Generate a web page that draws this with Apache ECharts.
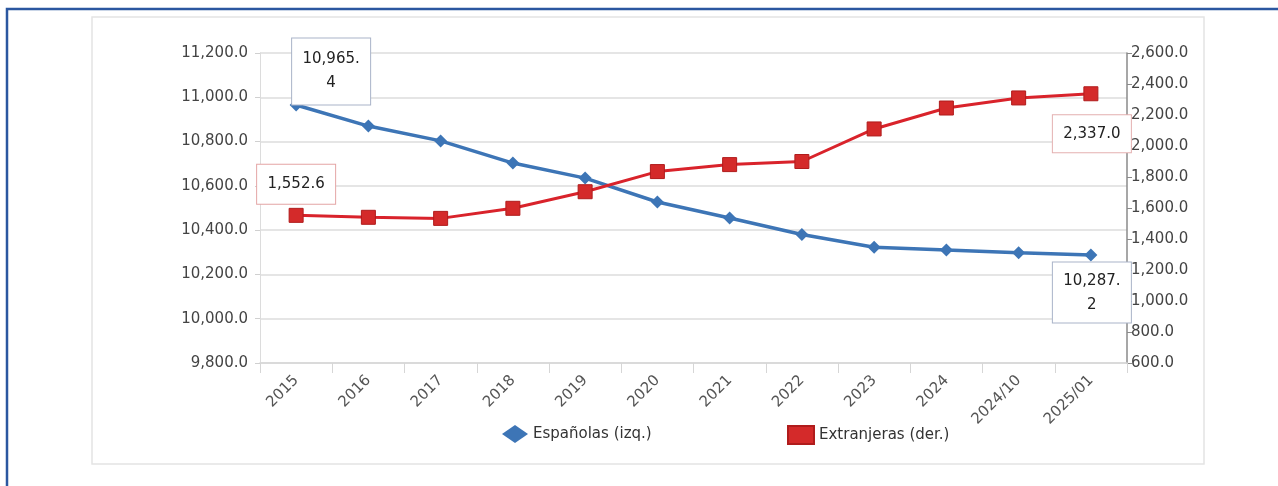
<!DOCTYPE html>
<html>
<head>
<meta charset="utf-8">
<script src="https://cdn.jsdelivr.net/npm/echarts@6/dist/echarts.min.js"></script>
<style>
  html, body { margin: 0; padding: 0; background: #ffffff; }
  #chart { width: 1278px; height: 486px; }
</style>
</head>
<body>
<div id="chart"></div>
<script>
const categories = ['2015', '2016', '2017', '2018', '2019', '2020', '2021', '2022', '2023', '2024', '2024/10', '2025/01'];
const espanolas = [10965.4, 10870, 10803, 10703, 10635, 10527, 10455, 10380, 10323, 10310, 10298, 10287.2];
const extranjeras = [1552.6, 1540, 1533, 1598, 1705, 1835, 1880, 1900, 2110, 2245, 2310, 2337.0];
const leftTicks = { min: 9800, max: 11200, interval: 200 };
const rightTicks = { min: 600, max: 2600, interval: 200 };
const seriesNames = ['Españolas (izq.)', 'Extranjeras (der.)'];

const FONT = 'DejaVu Sans';
const FS = 15;
const fmt = v => v.toLocaleString('en-US', { minimumFractionDigits: 1, maximumFractionDigits: 1 });
const wrapFmt = v => { const s = fmt(v); return s.slice(0, -1) + '\n' + s.slice(-1); };

const boxBase = {
  show: true,
  backgroundColor: '#ffffff',
  borderWidth: 1,
  fontFamily: FONT,
  fontSize: FS,
  color: '#222',
  align: 'center'
};

const last = categories.length - 1;
const blueData = espanolas.map((v, i) => {
  if (i === 0) return { value: v, label: Object.assign({}, boxBase, {
    position: 'top', distance: -6, offset: [35, 0], borderColor: '#a9b3c8',
    width: 70, padding: [9, 4], lineHeight: 24, formatter: p => wrapFmt(p.value) }) };
  if (i === last) return { value: v, label: Object.assign({}, boxBase, {
    position: 'bottom', distance: 1, offset: [1, 0], borderColor: '#a9b3c8',
    width: 70, padding: [6, 4], lineHeight: 24, formatter: p => wrapFmt(p.value) }) };
  return v;
});
const redData = extranjeras.map((v, i) => {
  if (i === 0) return { value: v, label: Object.assign({}, boxBase, {
    position: 'top', distance: 4, borderColor: '#e4a5a5',
    width: 70, padding: [10, 4], lineHeight: 19, formatter: p => fmt(p.value) }) };
  if (i === last) return { value: v, label: Object.assign({}, boxBase, {
    position: 'bottom', distance: 14, offset: [1, 0], borderColor: '#e4b0b0',
    width: 70, padding: [9, 4], lineHeight: 19, formatter: p => fmt(p.value) }) };
  return v;
});

const chart = echarts.init(document.getElementById('chart'), null, { renderer: 'canvas' });
chart.setOption({
  animation: false,
  backgroundColor: '#ffffff',
  textStyle: { fontFamily: FONT },
  graphic: [
    { type: 'rect', shape: { x: 92, y: 17, width: 1112, height: 447 }, style: { fill: 'none', stroke: '#e4e4e4', lineWidth: 1.5 }, silent: true },
    { type: 'polyline', shape: { points: [[7, 486], [7, 9], [1278, 9]] }, style: { fill: 'none', stroke: '#2b57a0', lineWidth: 2.5 }, silent: true }
  ],
  grid: { left: 260, right: 151, top: 53, bottom: 123 },
  legend: [
    { data: [{ name: seriesNames[0], icon: 'diamond' }], left: 497, top: 420, itemWidth: 26, itemHeight: 18, itemGap: 6, textStyle: { fontFamily: FONT, fontSize: FS, color: '#333' } },
    { data: [{ name: seriesNames[1], icon: 'rect' }], left: 782, top: 420, itemWidth: 26, itemHeight: 18, textStyle: { fontFamily: FONT, fontSize: FS, color: '#333' } }
  ],
  xAxis: {
    type: 'category',
    data: categories,
    boundaryGap: true,
    axisLine: { show: true, lineStyle: { color: '#d6d6d6', width: 1.5 } },
    axisTick: { show: true, length: 10, lineStyle: { color: '#d6d6d6' } },
    axisLabel: { rotate: 45, fontFamily: FONT, fontSize: FS, color: '#555', margin: 15 }
  },
  yAxis: [
    {
      type: 'value', position: 'left',
      min: leftTicks.min, max: leftTicks.max, interval: leftTicks.interval,
      axisLine: { show: true, lineStyle: { color: '#dcdcdc' } },
      axisTick: { show: true, length: 5, lineStyle: { color: '#d0d0d0' } },
      splitLine: { show: true, lineStyle: { color: '#dcdcdc', width: 1.5 } },
      axisLabel: { formatter: v => fmt(v), fontFamily: FONT, fontSize: FS, color: '#444', margin: 12 }
    },
    {
      type: 'value', position: 'right',
      min: rightTicks.min, max: rightTicks.max, interval: rightTicks.interval,
      axisLine: { show: true, lineStyle: { color: '#8a8a8a', width: 1.5 } },
      axisTick: { show: true, inside: false, length: 5, lineStyle: { color: '#8a8a8a' } },
      splitLine: { show: false },
      axisLabel: { formatter: v => fmt(v), fontFamily: FONT, fontSize: FS, color: '#444', margin: 4 }
    }
  ],
  series: [
    {
      name: seriesNames[0], type: 'line', yAxisIndex: 0, data: blueData,
      symbol: 'diamond', symbolSize: 13, showAllSymbol: true,
      lineStyle: { color: '#3d75b6', width: 3.5 },
      itemStyle: { color: '#3d75b6' },
      z: 3
    },
    {
      name: seriesNames[1], type: 'line', yAxisIndex: 1, data: redData,
      symbol: 'rect', symbolSize: 14, showAllSymbol: true,
      lineStyle: { color: '#d9232b', width: 3 },
      itemStyle: { color: '#d42a2a', borderColor: '#b01c1c', borderWidth: 1 },
      z: 4
    }
  ]
});
</script>
</body>
</html>
